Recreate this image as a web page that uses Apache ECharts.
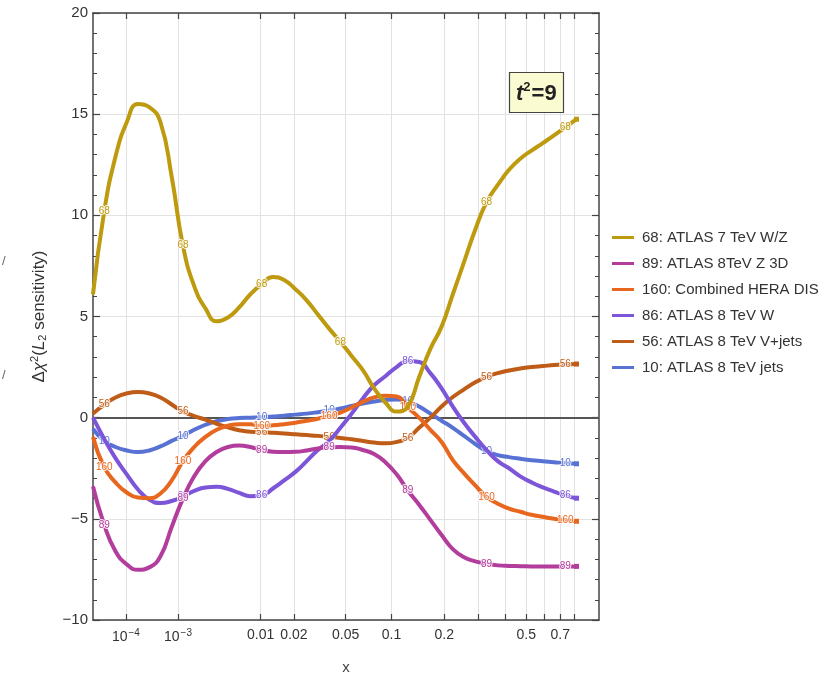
<!DOCTYPE html>
<html>
<head>
<meta charset="utf-8">
<script src="https://cdn.jsdelivr.net/npm/echarts@6/dist/echarts.min.js"></script>
<style>html,body{margin:0;padding:0;background:#fff;}#c{width:821px;height:675px;}</style>
</head>
<body>
<div id="c"></div>
<script>
// x grid (momentum fraction), evenly spaced on the x^0.2 axis
const xs = [1e-5, 2.488e-5, 5.378e-5, 1.049e-4, 1.890e-4, 3.2e-4, 5.154e-4, 7.963e-4, 1.188e-3, 1.721e-3,
  2.43e-3, 3.355e-3, 4.544e-3, 6.047e-3, 7.924e-3, 1.024e-2, 1.307e-2, 1.649e-2, 2.06e-2, 2.548e-2,
  3.125e-2, 3.802e-2, 4.592e-2, 5.507e-2, 6.564e-2, 7.776e-2, 9.161e-2, 0.1074, 0.1252, 0.1454,
  0.1681, 0.1935, 0.2219, 0.2536, 0.2887, 0.3277, 0.3707, 0.4182, 0.4704, 0.5277,
  0.5905, 0.6591, 0.7339, 0.8154];
const y68  = [6.1, 10.2, 12.9, 14.6, 15.5, 15.35, 14.6, 11.9, 8.5, 6.5,
  5.4, 4.76, 4.95, 5.45, 6.1, 6.6, 6.95, 6.8, 6.35, 5.8,
  5.1, 4.4, 3.75, 3.05, 2.35, 1.45, 0.75, 0.3, 0.55, 2.0,
  3.4, 4.5, 6.1, 7.7, 9.3, 10.65, 11.5, 12.25, 12.8, 13.2,
  13.57, 13.95, 14.35, 14.75];
const y89  = [-3.4, -5.3, -6.6, -7.25, -7.52, -7.4, -6.85, -5.4, -4.0, -2.9,
  -2.15, -1.7, -1.45, -1.38, -1.45, -1.6, -1.68, -1.7, -1.69, -1.62,
  -1.52, -1.47, -1.45, -1.47, -1.6, -1.8, -2.2, -2.8, -3.6, -4.3,
  -5.05, -5.8, -6.5, -6.9, -7.1, -7.22, -7.3, -7.33, -7.34, -7.35,
  -7.35, -7.35, -7.35, -7.35];
const y160 = [-0.95, -2.45, -3.2, -3.7, -3.95, -3.98, -3.75, -3.1, -2.15, -1.45,
  -0.95, -0.6, -0.4, -0.32, -0.33, -0.42, -0.38, -0.32, -0.25, -0.15,
  -0.05, 0.08, 0.25, 0.5, 0.78, 1.0, 1.08, 1.05, 0.5, 0.0,
  -0.6, -1.2, -2.1, -2.75, -3.35, -3.92, -4.25, -4.5, -4.65, -4.8,
  -4.9, -5.0, -5.07, -5.12];
const y86  = [0.0, -1.05, -2.0, -2.8, -3.55, -4.05, -4.22, -4.12, -3.9, -3.62,
  -3.45, -3.42, -3.52, -3.72, -3.88, -3.85, -3.5, -3.1, -2.68, -2.15,
  -1.6, -1.15, -0.5, 0.2, 0.95, 1.6, 2.05, 2.5, 2.8, 2.75,
  2.2, 1.45, 0.55, -0.25, -0.95, -1.6, -2.15, -2.5, -2.9, -3.2,
  -3.45, -3.65, -3.85, -3.98];
const y56  = [0.2, 0.65, 1.0, 1.2, 1.27, 1.2, 1.0, 0.65, 0.3, 0.08,
  -0.1, -0.3, -0.48, -0.62, -0.7, -0.72, -0.75, -0.78, -0.82, -0.86,
  -0.9, -0.95, -1.0, -1.07, -1.15, -1.23, -1.27, -1.2, -1.0, -0.5,
  0.0, 0.55, 1.02, 1.4, 1.75, 2.02, 2.2, 2.33, 2.43, 2.5,
  2.55, 2.6, 2.63, 2.65];
const y10  = [-0.55, -1.15, -1.45, -1.62, -1.7, -1.62, -1.42, -1.15, -0.9, -0.6,
  -0.35, -0.17, -0.07, -0.02, 0.0, 0.02, 0.06, 0.1, 0.15, 0.2,
  0.27, 0.35, 0.45, 0.58, 0.7, 0.8, 0.87, 0.9, 0.8, 0.55,
  0.2, -0.15, -0.5, -0.9, -1.3, -1.65, -1.85, -1.95, -2.03, -2.1,
  -2.15, -2.2, -2.25, -2.28];

const seriesNames = ['68: ATLAS 7 TeV W/Z', '89: ATLAS 8TeV Z 3D', '160: Combined HERA DIS', '86: ATLAS 8 TeV W', '56: ATLAS 8 TeV V+jets', '10: ATLAS 8 TeV jets'];
const seriesTags = ['68', '89', '160', '86', '56', '10'];
const seriesColors = ['#BE9A0E', '#B23D9C', '#E8671E', '#7C55D8', '#BF5C17', '#5872D4'];
const seriesValues = [y68, y89, y160, y86, y56, y10];
// x positions where in-line tags are placed
const allTagX = [2.488e-5, 1.188e-3, 1.024e-2, 3.802e-2, 0.1252, 0.3277, 0.7339];
const tagX = [
  [2.488e-5, 1.188e-3, 1.024e-2, 4.592e-2, 0.3277, 0.7339],
  allTagX, allTagX,
  [1.188e-3, 1.024e-2, 0.1252, 0.7339],
  allTagX, allTagX
];

const tickXs = [1e-4, 1e-3, 0.01, 0.02, 0.05, 0.1, 0.2, 0.3, 0.4, 0.5, 0.6, 0.7, 0.8];
const labelXs = [1e-4, 1e-3, 0.01, 0.02, 0.05, 0.1, 0.2, 0.5, 0.7];
const labelTexts = ['{n|10}{s|−4}', '{n|10}{s|−3}', '0.01', '0.02', '0.05', '0.1', '0.2', '0.5', '0.7'];

const POW = 0.2;                      // axis scale: x^0.2
const tx = x => Math.pow(x, POW);
const xMin = 1e-5, xMax = 1;
const font = 'Liberation Sans, Arial, sans-serif';

const series = seriesValues.map((ys, si) => ({
  name: seriesNames[si],
  type: 'line',
  smooth: 0.5,
  symbol: 'circle',
  symbolSize: 2,
  showSymbol: true,
  z: 10 - si,
  lineStyle: { width: 4, color: seriesColors[si] },
  itemStyle: { color: seriesColors[si] },
  emphasis: { disabled: true },
  data: xs.map((x, i) => {
    const item = { value: [tx(x), ys[i]] };
    if (tagX[si].some(v => Math.abs(v - x) / x < 1e-3)) {
      item.label = {
        show: true, position: 'inside', formatter: seriesTags[si],
        fontSize: 10, fontFamily: font,
        color: seriesColors[si], textBorderColor: 'rgba(255,255,255,0.85)', textBorderWidth: 2
      };
    }
    if (i === xs.length - 1) { item.symbol = 'rect'; item.symbolSize = 5; }
    return item;
  })
}));

series.push({
  name: 'zero', type: 'line', data: [], z: 1,
  markLine: { silent: true, symbol: 'none', label: { show: false },
    lineStyle: { color: '#555', width: 2, type: 'solid' },
    data: [{ yAxis: 0 }] }
});

const tickLabelFmt = (v) => {
  let best = 0, bd = 1e9;
  labelXs.forEach((x, i) => { const d = Math.abs(tx(x) - v); if (d < bd) { bd = d; best = i; } });
  return labelTexts[best];
};

const chart = echarts.init(document.getElementById('c'), null, { renderer: 'canvas' });
chart.setOption({
  animation: false,
  backgroundColor: '#fff',
  title: {
    text: '{i|t}{s|2}{n|=9}',
    left: 509, top: 72,
    backgroundColor: '#FBFBD2', borderColor: '#444', borderWidth: 1.2,
    padding: [9, 7, 8, 7],
    textStyle: { rich: {
      i: { fontSize: 22, fontStyle: 'italic', fontFamily: font, color: '#222' },
      s: { fontSize: 13, fontFamily: font, color: '#222', padding: [0, 1, 12, 0] },
      n: { fontSize: 22, fontFamily: font, color: '#222' }
    } }
  },
  legend: {
    orient: 'vertical', left: 607, top: 225,
    icon: 'rect', itemWidth: 22, itemHeight: 3, itemGap: 11,
    data: seriesNames,
    textStyle: { fontSize: 15, color: '#333', fontFamily: font, padding: [0, 0, 0, 3] }
  },
  grid: { left: 93, right: 222, top: 13, bottom: 55, containLabel: false, outerBoundsMode: 'none' },
  xAxis: [{
    type: 'value', position: 'bottom', min: tx(xMin), max: tx(xMax),
    name: 'x', nameLocation: 'middle', nameGap: 40,
    nameTextStyle: { fontSize: 15, color: '#444', fontFamily: font },
    axisLine: { show: true, onZero: false, lineStyle: { color: '#444', width: 1.5 } },
    axisTick: { show: true, inside: true, length: 6, customValues: tickXs.map(tx), lineStyle: { color: '#444', width: 1.2 } },
    axisLabel: { customValues: labelXs.map(tx), formatter: tickLabelFmt, margin: 8,
      color: '#333', fontSize: 14, fontFamily: font,
      rich: { n: { fontSize: 14, fontFamily: font, color: '#333' },
              s: { fontSize: 10, fontFamily: font, color: '#333', padding: [0, 0, 9, 1] } } },
    splitLine: { show: true, lineStyle: { color: '#e2e2e2', width: 1 } }
  }, {
    type: 'value', position: 'top', min: tx(xMin), max: tx(xMax),
    axisLine: { show: true, onZero: false, lineStyle: { color: '#444', width: 1.5 } },
    axisTick: { show: true, inside: true, length: 6, customValues: tickXs.map(tx), lineStyle: { color: '#444', width: 1.2 } },
    axisLabel: { show: false },
    splitLine: { show: false }
  }],
  yAxis: [{
    type: 'value', position: 'left', min: -10, max: 20, interval: 5,
    name: '{a|Δ}{i|χ}{s|2}{a|(}{i|L}{b|2}{a| sensitivity)}',
    nameLocation: 'middle', nameGap: 44, nameRotate: 90,
    nameTextStyle: { rich: {
      a: { fontSize: 17, color: '#333', fontFamily: font },
      i: { fontSize: 17, color: '#333', fontFamily: font, fontStyle: 'italic' },
      s: { fontSize: 11, color: '#333', fontFamily: font, padding: [0, 0, 9, 0] },
      b: { fontSize: 11, color: '#333', fontFamily: font, padding: [7, 0, 0, 0] }
    } },
    axisLine: { show: true, onZero: false, lineStyle: { color: '#444', width: 1.5 } },
    axisTick: { show: true, inside: true, length: 7, lineStyle: { color: '#444', width: 1.2 } },
    minorTick: { show: true, splitNumber: 5, length: 4, lineStyle: { color: '#444', width: 1 } },
    axisLabel: { color: '#333', fontSize: 15, fontFamily: font, margin: 5,
      formatter: v => (v < 0 ? '−' + Math.abs(v) : String(v)) },
    splitLine: { show: true, lineStyle: { color: '#e2e2e2', width: 1 } }
  }, {
    type: 'value', position: 'right', min: -10, max: 20, interval: 5,
    axisLine: { show: true, onZero: false, lineStyle: { color: '#444', width: 1.5 } },
    axisTick: { show: true, inside: true, length: 7, lineStyle: { color: '#444', width: 1.2 } },
    minorTick: { show: true, splitNumber: 5, length: 4, lineStyle: { color: '#444', width: 1 } },
    axisLabel: { show: false },
    splitLine: { show: false }
  }],
  graphic: [
    { type: 'text', left: 2, top: 255, style: { text: '/', fontSize: 13, fill: '#666', fontFamily: font } },
    { type: 'text', left: 2, top: 369, style: { text: '/', fontSize: 13, fill: '#666', fontFamily: font } }
  ],
  series: series
});
</script>
</body>
</html>
